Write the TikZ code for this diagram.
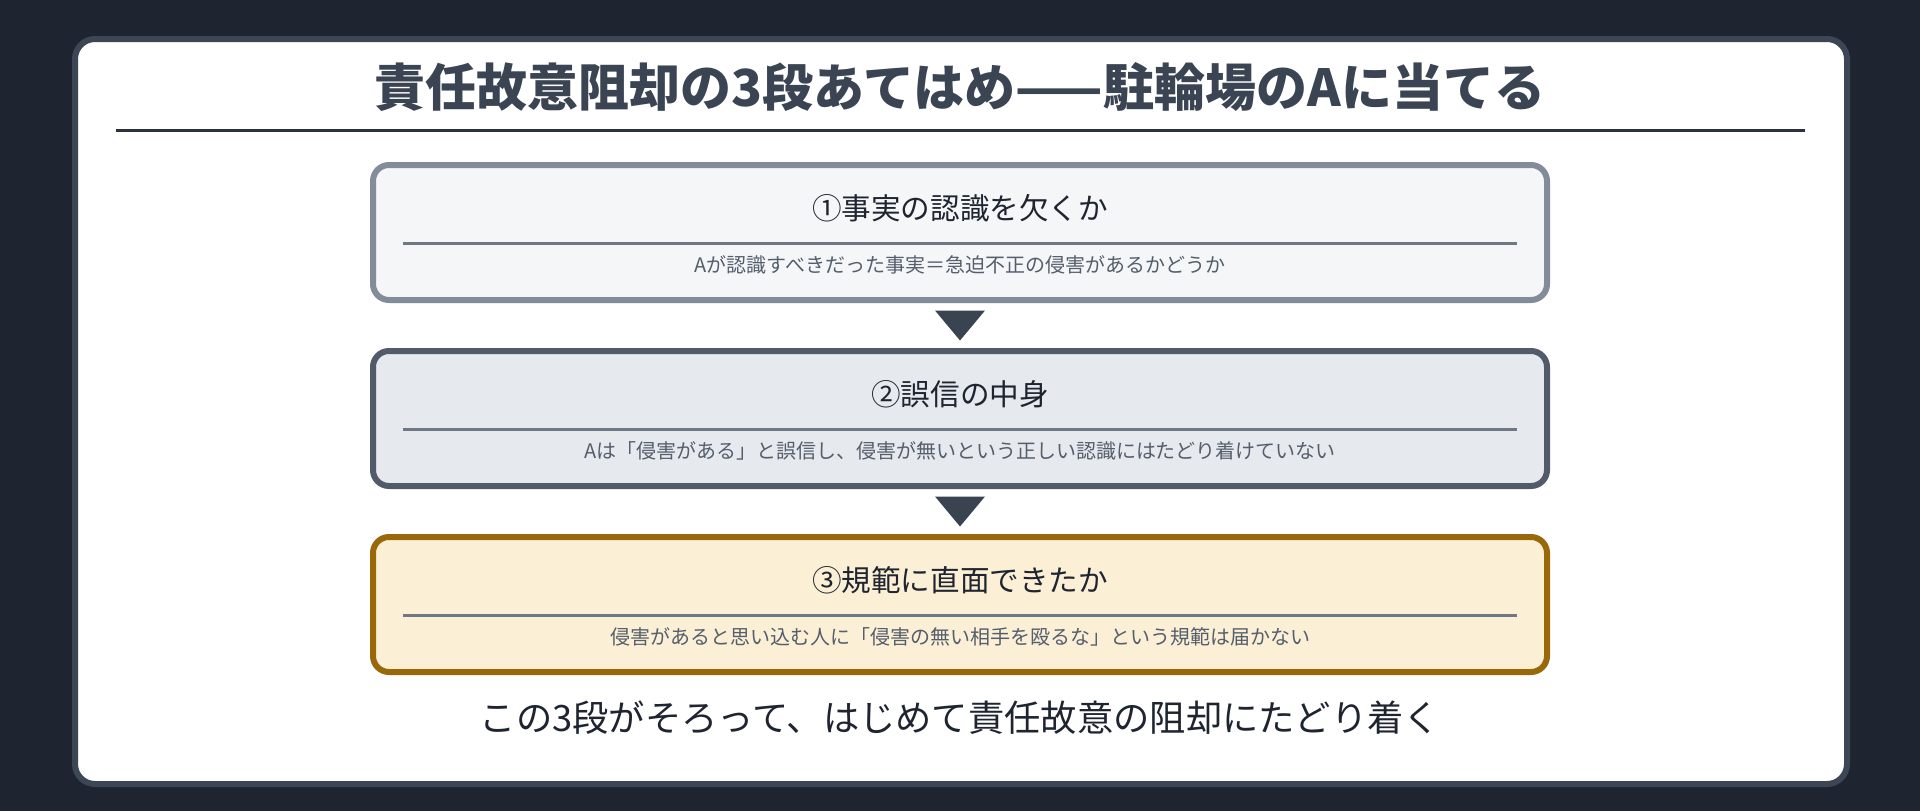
\documentclass[tikz,border=0pt]{standalone}
\usepackage{fontspec}
\setmainfont{Noto Sans CJK JP}
\usetikzlibrary{calc}
\definecolor{bgc}{HTML}{1E2530}
\definecolor{cardborder}{HTML}{3D4654}
\definecolor{titlec}{HTML}{3A4452}
\definecolor{rulec}{HTML}{2B323D}
\definecolor{boxoneb}{HTML}{848C99}
\definecolor{boxonef}{HTML}{F4F6F8}
\definecolor{boxtwob}{HTML}{525B6A}
\definecolor{boxtwof}{HTML}{E6E9EE}
\definecolor{boxthreeb}{HTML}{996808}
\definecolor{boxthreef}{HTML}{FBEFD5}
\definecolor{sepc}{HTML}{6E7785}
\definecolor{headc}{HTML}{1F2530}
\definecolor{subc}{HTML}{555E6C}
\definecolor{arrowc}{HTML}{3A4350}
\tikzset{
  stepbox/.style={draw, line width=6pt, rounded corners=16pt, minimum width=1174pt, minimum height=135pt, inner sep=0pt},
  boxhead/.style={text=headc, font=\fontsize{29.6}{35}\selectfont, inner sep=0pt},
  boxsub/.style={text=subc, font=\fontsize{20}{24}\selectfont, inner sep=0pt},
  seprule/.style={draw=sepc, line width=3pt},
  arrowtri/.style={fill=arrowc},
}
\begin{document}
\begin{tikzpicture}[x=1pt,y=-1pt]
\useasboundingbox (0,0) rectangle (1920,811);
\fill[bgc] (0,0) rectangle (1920,811);
\draw[draw=cardborder, fill=white, line width=6pt, rounded corners=20pt] (75,39) rectangle (1847,784);
\node[text=titlec, font=\bfseries\fontsize{51}{60}\selectfont, inner sep=0pt] (title) at (960,87) {責任故意阻却の3段あてはめ——駐輪場のAに当てる};
\coordinate (rl) at (116,130);
\coordinate (rr) at (1805,130);
\draw[draw=rulec, line width=3pt] (rl) -- (rr);

\node[stepbox, draw=boxoneb, fill=boxonef] (b1) at (960,232.5) {};
\node[stepbox, draw=boxtwob, fill=boxtwof] (b2) at (960,418.5) {};
\node[stepbox, draw=boxthreeb, fill=boxthreef] (b3) at (960,604.5) {};

\foreach \b/\h/\s in {b1/{①事実の認識を欠くか}/{Aが認識すべきだった事実＝急迫不正の侵害があるかどうか},
                      b2/{②誤信の中身}/{Aは「侵害がある」と誤信し、侵害が無いという正しい認識にはたどり着けていない},
                      b3/{③規範に直面できたか}/{侵害があると思い込む人に「侵害の無い相手を殴るな」という規範は届かない}}{
  \node[boxhead] (\b h) at ($(\b.north)+(0,46)$) {\h};
  \coordinate (\b sl) at ($(\b.north west)+(33,81)$);
  \coordinate (\b sr) at ($(\b.north east)+(-33,81)$);
  \draw[seprule] (\b sl) -- (\b sr);
  \node[boxsub] (\b s) at ($(\b.north)+(0,103)$) {\s};
}

\coordinate (m1) at ($(b1.south)!0.5!(b2.north)$);
\coordinate (m2) at ($(b2.south)!0.5!(b3.north)$);
\fill[arrowtri] ($(m1)+(-25,-15)$) -- ($(m1)+(25,-15)$) -- ($(m1)+(0,15)$) -- cycle;
\fill[arrowtri] ($(m2)+(-25,-15)$) -- ($(m2)+(25,-15)$) -- ($(m2)+(0,15)$) -- cycle;

\node[text=headc, font=\fontsize{36.3}{42}\selectfont, inner sep=0pt] (concl) at (960,718) {この3段がそろって、はじめて責任故意の阻却にたどり着く};
\end{tikzpicture}
\end{document}
